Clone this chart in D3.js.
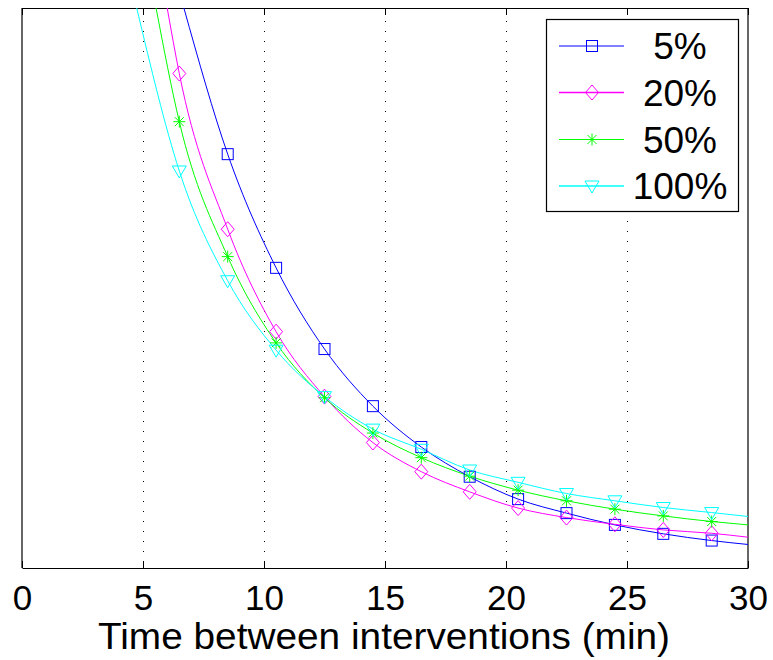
<!DOCTYPE html>
<html>
<head>
<meta charset="utf-8">
<script src="https://cdn.jsdelivr.net/npm/d3@7"></script>
<style>
  html, body { margin: 0; padding: 0; background: #fff; }
  svg { display: block; font-family: "Liberation Sans", Arial, sans-serif; }
</style>
</head>
<body>
<svg id="chart" width="773" height="660"></svg>
<script>
// ---- data (y in arbitrary units, 0 = bottom, 100 = top of axes) ----
const seriesNames = ["5%", "20%", "50%", "100%"];
const seriesColors = ["#0000ff", "#ff00ff", "#00ff00", "#00ffff"];
const seriesMarkers = ["square", "diamond", "star", "triangle"];
const xTicks = [0, 5, 10, 15, 20, 25, 30];
const gridX = [5, 10, 15, 20, 25];
const markerX = [6.5, 8.5, 10.5, 12.5, 14.5, 16.5, 18.5, 20.5, 22.5, 24.5, 26.5, 28.5];

// line points: x where each curve leaves the top, then marker positions, then x = 30
const lineX5   = [6.69, 8.5, 10.5, 12.5, 14.5, 16.5, 18.5, 20.5, 22.5, 24.5, 26.5, 28.5, 30];
const lineY5   = [100, 73.9, 53.6, 39.1, 28.9, 21.6, 16.3, 12.3, 9.8, 7.7, 6.1, 4.9, 4.2];
const lineX20  = [6.0, 6.5, 8.5, 10.5, 12.5, 14.5, 16.5, 18.5, 20.5, 22.5, 24.5, 26.5, 28.5, 30];
const lineY20  = [100, 88.3, 60.5, 42.2, 30.6, 22.4, 17.2, 13.6, 10.7, 9.0, 7.8, 6.8, 6.2, 5.5];
const lineX50  = [5.54, 6.5, 8.5, 10.5, 12.5, 14.5, 16.5, 18.5, 20.5, 22.5, 24.5, 26.5, 28.5, 30];
const lineY50  = [100, 79.7, 55.6, 40.2, 30.4, 24.1, 19.7, 16.4, 13.9, 12.0, 10.5, 9.3, 8.3, 7.7];
const lineX100 = [4.74, 6.5, 8.5, 10.5, 12.5, 14.5, 16.5, 18.5, 20.5, 22.5, 24.5, 26.5, 28.5, 30];
const lineY100 = [100, 70.9, 51.3, 38.9, 30.6, 24.8, 21.2, 17.5, 15.3, 13.3, 12.0, 10.8, 9.9, 9.2];

const lineXs = [lineX5, lineX20, lineX50, lineX100];
const lineYs = [lineY5, lineY20, lineY50, lineY100];

// ---- layout ----
const svg = d3.select("#chart");
const L = 22, T = 8, R = 748, B = 568;
const x = d3.scaleLinear().domain([0, 30]).range([L, R]);
const y = d3.scaleLinear().domain([0, 100]).range([B, T]);

svg.append("defs").append("clipPath").attr("id", "clip")
  .append("rect").attr("x", L).attr("y", T).attr("width", R - L).attr("height", B - T);

// grid
svg.append("g").selectAll("line").data(gridX).join("line")
  .attr("x1", d => Math.round(x(d)) + 0.5).attr("x2", d => Math.round(x(d)) + 0.5)
  .attr("y1", T).attr("y2", B)
  .attr("stroke", "#000").attr("stroke-width", 1)
  .attr("stroke-dasharray", "1,9").attr("stroke-dashoffset", -3);

// axes
const xAxisB = d3.axisBottom(x).tickValues(xTicks).tickSizeInner(-7).tickSizeOuter(0).tickPadding(17);
const gB = svg.append("g").attr("transform", `translate(0,${B})`).call(xAxisB);
gB.select(".domain").attr("stroke", "#000").attr("stroke-width", 1.2);
gB.selectAll(".tick line").attr("stroke", "#000");
gB.selectAll(".tick text").attr("font-size", 35).attr("font-family", "Liberation Sans, Arial, sans-serif").attr("fill", "#000");

const xAxisT = d3.axisTop(x).tickValues(xTicks).tickSizeInner(-7).tickSizeOuter(0).tickFormat("");
const gT = svg.append("g").attr("transform", `translate(0,${T})`).call(xAxisT);
gT.select(".domain").attr("stroke", "#000").attr("stroke-width", 1.2);
gT.selectAll(".tick line").attr("stroke", "#000");

svg.append("line").attr("x1", L).attr("x2", L).attr("y1", T).attr("y2", B).attr("stroke", "#000").attr("stroke-width", 1.2);
svg.append("line").attr("x1", R).attr("x2", R).attr("y1", T).attr("y2", B).attr("stroke", "#000").attr("stroke-width", 1.2);

svg.append("text").attr("x", 384).attr("y", 648.5)
  .attr("text-anchor", "middle").attr("font-size", 36).attr("fill", "#000")
  .attr("textLength", 572).attr("lengthAdjust", "spacingAndGlyphs")
  .text("Time between interventions (min)");

// markers
function drawMarker(g, type, cx, cy, color) {
  if (type === "square") {
    g.append("rect").attr("x", cx - 5.5).attr("y", cy - 5.5).attr("width", 11).attr("height", 11)
      .attr("fill", "none").attr("stroke", color).attr("stroke-width", 1);
  } else if (type === "diamond") {
    g.append("path").attr("d", `M${cx},${cy - 7.5}L${cx + 6.5},${cy}L${cx},${cy + 7.5}L${cx - 6.5},${cy}Z`)
      .attr("fill", "none").attr("stroke", color).attr("stroke-width", 1);
  } else if (type === "star") {
    const r = 6;
    const d = `M${cx - r},${cy}L${cx + r},${cy}M${cx},${cy - r}L${cx},${cy + r}` +
      `M${cx - r * 0.75},${cy - r * 0.75}L${cx + r * 0.75},${cy + r * 0.75}` +
      `M${cx - r * 0.75},${cy + r * 0.75}L${cx + r * 0.75},${cy - r * 0.75}`;
    g.append("path").attr("d", d).attr("fill", "none").attr("stroke", color).attr("stroke-width", 1);
  } else if (type === "triangle") {
    g.append("path").attr("d", `M${cx - 7},${cy - 5}L${cx + 7},${cy - 5}L${cx},${cy + 7}Z`)
      .attr("fill", "none").attr("stroke", color).attr("stroke-width", 1);
  }
}

const plot = svg.append("g").attr("clip-path", "url(#clip)");
const lineGen = d3.line().x(d => x(d[0])).y(d => y(d[1])).curve(d3.curveMonotoneX);

seriesNames.forEach((name, i) => {
  const pts = lineXs[i].map((xv, j) => [xv, lineYs[i][j]]);
  plot.append("path").datum(pts).attr("d", lineGen)
    .attr("fill", "none").attr("stroke", seriesColors[i]).attr("stroke-width", 1);
});
seriesNames.forEach((name, i) => {
  const g = plot.append("g");
  lineXs[i].forEach((xv, j) => {
    if (markerX.includes(xv)) drawMarker(g, seriesMarkers[i], x(xv), y(lineYs[i][j]), seriesColors[i]);
  });
});

// legend
const lg = svg.append("g");
lg.append("rect").attr("x", 546.5).attr("y", 19.5).attr("width", 192).attr("height", 192)
  .attr("fill", "#fff").attr("stroke", "#000").attr("stroke-width", 1.2);
const rowY = [46, 92.5, 139.5, 186];
seriesNames.forEach((name, i) => {
  lg.append("line").attr("x1", 559).attr("x2", 624).attr("y1", rowY[i]).attr("y2", rowY[i])
    .attr("stroke", seriesColors[i]).attr("stroke-width", (i % 2) ? 1.6 : 1);
  drawMarker(lg, seriesMarkers[i], 592, rowY[i], seriesColors[i]);
  lg.append("text").attr("x", 680).attr("y", rowY[i] + 13).attr("text-anchor", "middle")
    .attr("font-size", 37).attr("fill", "#000").text(name);
});
</script>
</body>
</html>
